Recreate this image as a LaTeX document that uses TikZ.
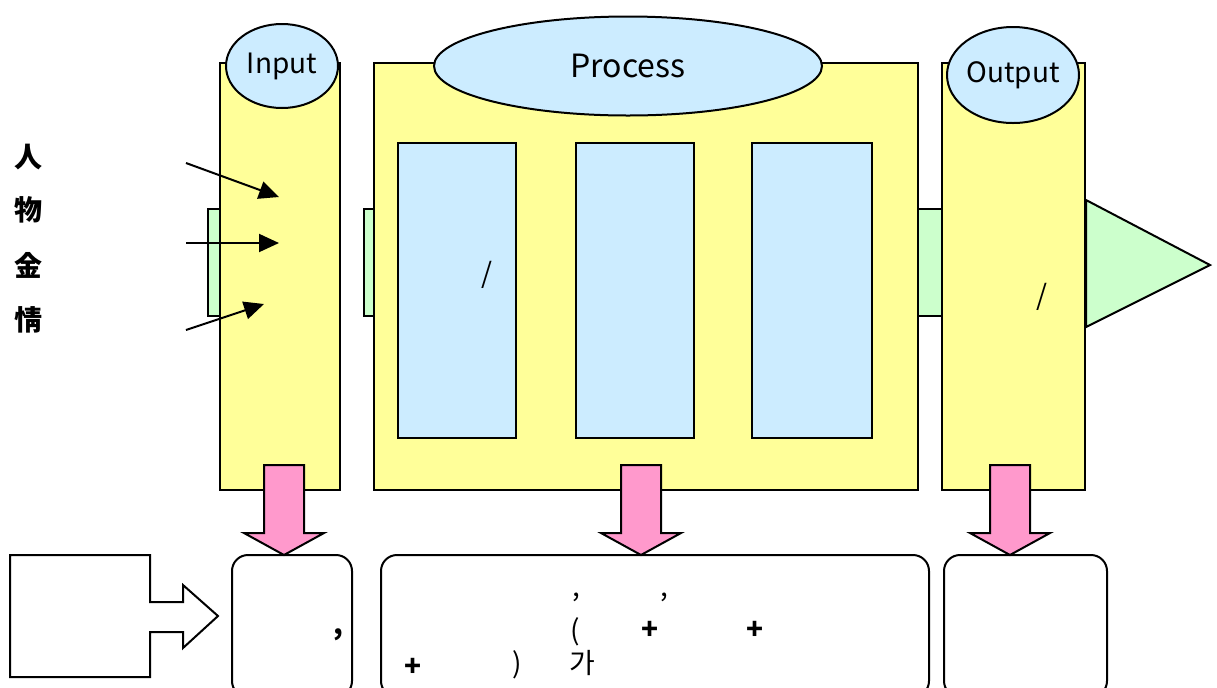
\documentclass[tikz,border=0pt]{standalone}
\usepackage{fontspec}
\setmainfont{Noto Sans CJK KR}
\usetikzlibrary{arrows.meta}
\usetikzlibrary{shapes.geometric}
\usetikzlibrary{positioning}

\definecolor{colyellow}{HTML}{FFFF99}
\definecolor{colblue}{HTML}{CCECFF}
\definecolor{colgreen}{HTML}{CCFFCC}
\definecolor{colpink}{HTML}{FF99CC}

\begin{document}
\begin{tikzpicture}[x=0.5pt,y=-0.5pt,
    column/.style={draw,line width=1pt,fill=colyellow,inner sep=0pt,minimum height=213.5pt},
    inlet/.style={draw,line width=1pt,fill=colgreen,inner sep=0pt,minimum height=53.5pt},
    stage/.style={draw,line width=1pt,fill=colblue,inner sep=0pt,minimum height=147.5pt},
    title/.style={ellipse,draw,line width=1pt,fill=colblue,inner sep=0pt,font=\fontsize{14}{16}\selectfont},
    result/.style={draw,line width=1pt,rounded corners=8pt,inner sep=0pt,minimum height=71pt},
    txt/.style={inner sep=0pt,font=\fontsize{14}{16}\selectfont},
    heavy/.style={inner sep=0pt,font=\fontsize{14}{16}\selectfont\bfseries},
    feed/.style={line width=1pt,-{Triangle[length=10pt,width=9pt]}},
    pinkarrow/.style={draw,line width=1pt,fill=colpink,line join=miter}]

            % \draw [help lines] (0,0) grid (1217,687);
            \useasboundingbox (0,0) rectangle (1217,687);

            % columns
            \path   (280,276.5)  node (inp)  [column,minimum width=60pt] {}
                    (646,276.5)  node (proc) [column,minimum width=272pt] {}
                    (1013.5,276.5) node (outp) [column,minimum width=71.5pt] {}
                    (214,262.5)  node (gin)  [inlet,minimum width=6pt] {}
                    (369,262.5)  node (gproc) [inlet,minimum width=5pt] {}
                    (930,262.5)  node (glink) [inlet,minimum width=12pt] {};

            \draw[line width=1pt,fill=colgreen] (outp.east |- 0,200) -- (1210,265) -- (outp.east |- 0,327) -- cycle;

            % titles
            \path   (282,66)  node (tin)   [title,minimum width=56pt,minimum height=42pt] {\raisebox{-1.5pt}{Input}}
                    (628,66)  node (tproc) [title,minimum width=194pt,minimum height=49.5pt,font=\fontsize{16}{18}\selectfont] {Process}
                    (1013,75) node (tout)  [title,minimum width=66pt,minimum height=48pt] {Output};

            % stages
            \path   (457,290.5) node (s1) [stage,minimum width=59pt] {}
                    (635,290.5) node (s2) [stage,minimum width=59pt] {}
                    (812,290.5) node (s3) [stage,minimum width=60pt] {};

            \node[txt] (sl1) at (487,275) {/};
            \node[txt] (sl2) at (1042,297) {/};

            % resources
            \path   (28,157) node (r1) [heavy] {人}
                    (28,210) node (r2) [heavy] {物}
                    (28,265) node (r3) [heavy] {金}
                    (28,320) node (r4) [heavy] {情};

            \coordinate (f1) at (186,163);
            \coordinate (f2) at (186,243);
            \coordinate (f3) at (186,330);
            \coordinate (e1) at (279,197);
            \coordinate (e2) at (279,243);
            \coordinate (e3) at (264,304);
            \draw[feed] (f1) -- (e1);
            \draw[feed] (f2) -- (e2);
            \draw[feed] (f3) -- (e3);

            % pink arrows
            \foreach \x in {284,641,1010}
                \draw[pinkarrow] ({\x-20},465) -- ({\x+20},465) -- ({\x+20},533) -- ({\x+40},533)
                    -- (\x,555) -- ({\x-40},533) -- ({\x-20},533) -- cycle;

            % results
            \path   (292,626)    node (b1) [result,minimum width=60pt] {}
                    (655,626)    node (b2) [result,minimum width=274pt] {}
                    (1025.5,626) node (b3) [result,minimum width=81.5pt] {};

            \draw[line width=1pt,line join=miter] (10,555) -- (150,555) -- (150,602) -- (183,602) -- (183,585)
                -- (218,616) -- (183,648) -- (183,632) -- (150,632) -- (150,677) -- (10,677) -- cycle;

            \node[heavy] (c1) at (338,635) {,};
            \node[txt] (c2) at (576,597) {,};
            \node[txt] (c3) at (664,597) {,};
            \node[txt] (p1) at (575,632) {(};
            \node[heavy] (p2) at (650,630) {+};
            \node[heavy] (p3) at (755,630) {+};
            \node[heavy] (p4) at (413,667) {+};
            \node[txt] (p5) at (517,665) {)};
            \node[txt] (p6) at (582,663) {가};

\end{tikzpicture}
\end{document}
